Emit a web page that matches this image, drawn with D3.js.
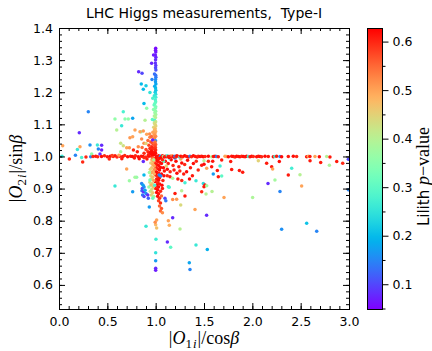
<!DOCTYPE html>
<html>
<head>
<meta charset="utf-8">
<script src="https://cdnjs.cloudflare.com/ajax/libs/d3/7.8.5/d3.min.js"></script>
<style>
  body { margin: 0; background: #fff; }
  text { font-family: "DejaVu Sans", sans-serif; fill: #000; }
</style>
</head>
<body>
<div id="chart"></div>
<script>
// each point: [|O1i|/cosb, |O2i|/sinb, Lilith p-value]
const armPoints = [
  [1.000,1.337,0.055],[0.999,1.331,0.06],[1.001,1.325,0.065],[0.978,1.316,0.07],[0.997,1.316,0.07],[1.002,1.309,0.075],
  [0.999,1.301,0.08],[0.958,1.290,0.075],[0.997,1.291,0.085],[1.001,1.283,0.09],[0.999,1.276,0.10],[1.002,1.269,0.11],
  [0.824,1.264,0.08],[0.859,1.259,0.10],[0.988,1.257,0.13],[1.000,1.253,0.135],[1.002,1.247,0.14],[0.962,1.240,0.15],
  [0.999,1.240,0.155],[0.998,1.233,0.17],[1.002,1.226,0.18],[0.851,1.226,0.20],[0.900,1.220,0.22],[0.990,1.219,0.185],
  [0.872,1.209,0.20],[0.999,1.213,0.20],[1.001,1.206,0.21],[0.995,1.200,0.22],[0.941,1.199,0.25],[1.000,1.194,0.24],
  [0.986,1.189,0.26],[1.001,1.184,0.27],[0.970,1.181,0.28],[0.997,1.176,0.28],[1.000,1.170,0.30],[0.879,1.165,0.20],
  [0.992,1.165,0.31],[0.984,1.160,0.31],[1.001,1.155,0.33],[0.907,1.150,0.36],[0.996,1.150,0.34],[0.978,1.146,0.35],
  [1.000,1.141,0.36],[0.992,1.136,0.37],[1.001,1.131,0.38],[0.986,1.126,0.39],[0.998,1.121,0.40],[0.890,1.113,0.40],
  [0.966,1.115,0.30],[0.990,1.112,0.29],[1.000,1.108,0.42],[0.986,1.104,0.43],[0.994,1.100,0.44],[1.001,1.095,0.45],
  [0.980,1.091,0.45],[0.996,1.086,0.47],[0.988,1.082,0.48],[1.000,1.078,0.49],[0.971,1.075,0.50],[0.993,1.071,0.50],
  [0.983,1.067,0.51],[1.000,1.063,0.52],[0.990,1.058,0.53],[0.976,1.054,0.52],[0.969,1.051,0.07],[0.999,1.049,0.16],
  [0.995,1.045,0.54],[0.984,1.041,0.55],[1.000,1.037,0.56],[0.990,1.033,0.57],[0.998,1.028,0.58],[0.986,1.024,0.59],
  [1.000,1.020,0.60],[0.993,1.015,0.61],[0.999,1.010,0.62],[0.990,1.006,0.62]
];

const upperLeftPoints = [
  [0.303,1.139,0.15],[0.665,1.139,0.28],[0.579,1.117,0.36],[0.683,1.117,0.35],[0.717,1.117,0.36],[0.762,1.119,0.18],
  [0.597,1.082,0.40],[0.648,1.096,0.26],[0.210,1.074,0.08],[0.786,1.082,0.50],[0.848,1.077,0.34],[0.838,1.077,0.50],
  [0.872,1.079,0.51],[0.907,1.069,0.50],[0.734,1.058,0.51],[0.762,1.061,0.50],[0.855,1.054,0.52],[0.879,1.041,0.52],
  [0.038,1.033,0.50],[0.217,1.030,0.50],[0.321,1.036,0.16],[0.397,1.036,0.26],[0.441,1.035,0.08],[0.190,1.022,0.26],
  [0.407,1.023,0.15],[0.441,1.020,0.07],[0.638,1.041,0.42],[0.665,1.033,0.43],[0.638,1.015,0.38],[0.700,1.027,0.50],
  [0.728,1.027,0.51],[0.770,1.020,0.60],[0.810,1.015,0.61],[0.820,1.030,0.52],[0.860,1.028,0.55],[0.880,1.010,0.60],
  [0.900,1.022,0.58],[0.920,1.015,0.60],[0.920,1.050,0.55],[0.940,1.060,0.53],[0.950,1.045,0.57],[0.930,1.035,0.58],
  [0.960,1.030,0.60],[0.955,1.020,0.61],[0.940,1.025,0.60],[0.970,1.040,0.58],[0.965,1.015,0.62],[0.975,1.025,0.60],
  [0.980,1.010,0.62],[0.950,1.008,0.62],[0.900,1.040,0.45],[0.938,1.070,0.52],[0.958,1.062,0.55],[0.925,1.005,0.61],
  [0.945,1.012,0.62],[0.972,1.005,0.62]
];

const bandLeftPoints = [
  [0.000,1.000,0.20],[0.031,1.001,0.26],[0.107,0.992,0.60],[0.170,1.004,0.15],[0.234,0.997,0.28],[0.279,0.998,0.60],
  [0.245,0.983,0.60],[0.328,0.999,0.15],[0.338,1.008,0.36],[0.352,1.000,0.60],[0.380,1.001,0.61],[0.400,0.999,0.60],
  [0.424,1.008,0.08],[0.440,1.000,0.62],[0.470,1.002,0.60],[0.500,0.999,0.61],[0.520,0.992,0.60],[0.530,1.001,0.62],
  [0.560,1.000,0.60],[0.580,1.002,0.61],[0.600,0.998,0.60],[0.630,1.001,0.62],[0.650,0.993,0.61],[0.660,1.000,0.61],
  [0.680,1.003,0.60],[0.710,0.999,0.62],[0.740,1.001,0.61],[0.760,1.000,0.62],[0.790,1.002,0.60],[0.820,0.999,0.62],
  [0.850,1.001,0.61],[0.870,1.000,0.62],[0.900,0.998,0.60],[0.930,1.001,0.62],[0.960,1.000,0.61],[0.872,0.984,0.08],
  [0.700,0.961,0.50],[0.550,1.003,0.58],[0.620,1.004,0.50],[0.780,0.995,0.61],[0.830,0.993,0.62],[0.880,0.996,0.60],
  [0.910,0.992,0.61]
];

const bandRightPoints = [
  [1.010,1.000,0.62],[1.020,0.998,0.61],[1.030,1.002,0.62],[1.040,0.999,0.60],[1.050,1.001,0.16],[1.060,0.997,0.62],
  [1.070,1.002,0.61],[1.080,1.000,0.38],[1.090,0.998,0.62],[1.100,1.001,0.60],[1.110,0.999,0.62],[1.120,1.002,0.27],
  [1.130,1.000,0.61],[1.140,0.997,0.62],[1.150,1.001,0.60],[1.160,0.999,0.62],[1.170,1.002,0.50],[1.180,1.000,0.61],
  [1.190,0.998,0.62],[1.200,1.001,0.15],[1.210,0.999,0.60],[1.220,1.002,0.62],[1.240,1.000,0.61],[1.250,0.998,0.27],
  [1.260,1.001,0.62],[1.280,0.999,0.60],[1.300,1.002,0.62],[1.320,1.000,0.61],[1.340,0.998,0.62],[1.355,1.001,0.15],
  [1.370,0.999,0.60],[1.390,1.002,0.62],[1.410,1.000,0.61],[1.430,0.998,0.62],[1.440,1.001,0.60],
  [1.459,1.000,0.62],[1.476,1.001,0.61],[1.493,0.999,0.62],[1.511,1.000,0.60],[1.545,1.001,0.62],[1.579,0.999,0.40],
  [1.597,1.000,0.61],[1.614,1.001,0.62],[1.631,1.000,0.15],[1.648,0.999,0.61],[1.717,1.001,0.50],[1.734,1.000,0.50],
  [1.752,0.999,0.62],[1.786,1.001,0.61],[1.803,1.000,0.62],[1.821,0.998,0.60],[1.838,1.001,0.62],[1.855,1.000,0.61],
  [1.872,0.999,0.62],[1.890,1.001,0.60],[1.907,1.000,0.62],[1.924,0.999,0.61],[1.941,1.001,0.62],[1.959,1.000,0.27],
  [1.976,0.999,0.61],[1.993,1.001,0.62],[2.010,1.000,0.60],[2.045,0.999,0.62],[2.062,1.001,0.61],[2.079,1.000,0.62],
  [2.096,0.999,0.60],[2.131,1.001,0.62],[2.165,1.000,0.61],[2.217,0.999,0.62],[2.234,1.000,0.28],[2.251,1.001,0.61],
  [2.286,1.000,0.15],[2.303,0.999,0.62],[2.372,1.000,0.61],[2.424,1.001,0.62],[2.458,1.000,0.60],[2.562,0.999,0.62],
  [2.579,1.001,0.50],[2.596,1.000,0.61],[2.648,1.000,0.50],[2.693,0.999,0.62],[2.769,1.000,0.40],[2.803,0.998,0.61],
  [2.993,0.991,0.10]
];

const coreLowerPoints = [
  [1.000,0.995,0.62],[1.010,0.990,0.62],[1.030,0.992,0.61],[1.050,0.995,0.62],[1.070,0.990,0.60],[1.020,0.985,0.62],
  [1.040,0.982,0.61],[0.995,0.980,0.60],[1.060,0.978,0.62],[1.010,0.975,0.61],[1.030,0.972,0.62],[1.000,0.968,0.60],
  [1.050,0.966,0.62],[1.020,0.962,0.61],[1.040,0.958,0.62],[0.995,0.955,0.60],[1.010,0.951,0.62],[1.030,0.948,0.61],
  [1.060,0.945,0.62],[1.000,0.942,0.62],[1.020,0.938,0.60],[1.040,0.934,0.62],[1.010,0.930,0.61],[1.030,0.926,0.62],
  [0.995,0.922,0.62],[1.020,0.918,0.60],[1.040,0.914,0.61],[1.010,0.910,0.62],[1.030,0.905,0.62],[1.000,0.900,0.61],
  [1.020,0.896,0.62],[1.050,0.892,0.60],[1.010,0.888,0.62],[1.030,0.884,0.61],[1.020,0.876,0.62],[1.040,0.870,0.60],
  [1.030,0.862,0.58],[1.050,0.855,0.60],[1.040,0.846,0.55],[1.060,0.838,0.57],[1.050,0.830,0.55],[1.070,0.825,0.52],
  [1.080,0.965,0.62],[1.090,0.955,0.61],[1.085,0.940,0.62],[1.075,0.925,0.60],[1.065,0.910,0.62],[1.070,0.900,0.61],
  [1.060,0.877,0.55],[1.038,0.942,0.15],[1.052,0.939,0.16],
  [0.960,0.990,0.48],[0.975,0.985,0.50],[0.950,0.980,0.46],[0.970,0.975,0.49],[0.985,0.970,0.50],[0.960,0.965,0.47],
  [0.945,0.960,0.45],[0.975,0.955,0.48],[0.960,0.950,0.50],[0.985,0.945,0.49],[0.950,0.940,0.44],[0.970,0.935,0.47],
  [0.955,0.930,0.46],[0.980,0.925,0.50],[0.940,0.920,0.42],[0.965,0.915,0.45],[0.950,0.910,0.48],[0.975,0.905,0.47],
  [0.960,0.898,0.44],[0.945,0.892,0.42],[0.970,0.887,0.46],[0.955,0.880,0.45],[0.980,0.875,0.38],[0.970,0.995,0.55],
  [0.980,0.990,0.40],[0.990,0.960,0.52],
  [0.941,0.927,0.33],[0.930,0.905,0.36],[0.935,0.950,0.38],[0.786,0.935,0.38],[0.879,0.942,0.20],[0.970,0.870,0.32],
  [0.990,0.910,0.28],
  [0.855,0.916,0.15],[0.870,0.910,0.18],[0.862,0.900,0.10],[0.880,0.905,0.16],[0.858,0.893,0.12],[0.875,0.890,0.08],
  [0.890,0.895,0.18],[0.865,0.880,0.14],[0.880,0.875,0.10],[0.900,0.885,0.16],[0.918,0.880,0.08],[0.924,0.870,0.12],
  [0.934,0.843,0.17],[0.762,0.890,0.17]
];

const scatterPoints = [
  [0.900,0.783,0.26],[1.003,0.742,0.27],[1.000,0.700,0.25],[1.000,0.675,0.17],[1.000,0.652,0.08],[1.000,0.646,0.07],
  [1.010,0.802,0.50],[1.000,0.787,0.48],[1.010,0.777,0.47],[0.995,0.795,0.52],[1.131,0.800,0.50],[1.141,0.786,0.49],
  [1.176,0.809,0.08],[1.252,0.774,0.40],[1.121,0.734,0.08],[1.155,0.717,0.30],[1.417,0.724,0.26],[1.348,0.669,0.18],
  [1.355,0.648,0.15],[1.534,0.710,0.19],[1.527,0.817,0.08],[1.407,0.835,0.50],[1.303,0.877,0.61],[1.259,0.849,0.44],
  [1.176,0.866,0.52],[1.217,0.867,0.51],[1.200,0.885,0.61],[1.269,0.893,0.40],[1.096,0.870,0.10],[1.105,0.862,0.14],
  [1.131,0.906,0.27],[1.140,0.904,0.28],[1.148,0.937,0.61],[1.176,0.932,0.39],[1.303,0.918,0.27],[1.417,0.924,0.26],
  [1.493,0.916,0.24],[1.510,0.911,0.61],[1.500,0.906,0.61],[1.476,0.890,0.60],[1.528,0.909,0.38],[1.521,0.883,0.40],
  [1.583,0.891,0.40],[1.596,0.945,0.17],[1.648,0.937,0.61],[1.683,0.939,0.30],[1.707,0.872,0.50],[2.003,0.872,0.39],
  [2.162,0.916,0.08],[2.234,0.927,0.38],[2.286,0.891,0.15],[2.372,0.942,0.61],[2.493,0.943,0.40],[2.510,0.908,0.50],
  [2.562,0.792,0.21],[2.303,0.773,0.16],[2.666,0.767,0.15],[2.993,0.896,0.15],[0.579,0.908,0.26],[0.728,0.924,0.37],
  [0.803,0.935,0.36],
  [1.100,0.985,0.62],[1.130,0.978,0.61],[1.160,0.990,0.62],[1.180,0.972,0.60],[1.210,0.985,0.62],[1.240,0.968,0.61],
  [1.270,0.980,0.62],[1.300,0.975,0.60],[1.330,0.988,0.62],[1.360,0.965,0.61],[1.390,0.978,0.62],[1.420,0.985,0.60],
  [1.120,0.960,0.62],[1.150,0.952,0.60],[1.190,0.958,0.61],[1.220,0.948,0.62],[1.250,0.955,0.60],[1.290,0.945,0.61],
  [1.320,0.952,0.62],[1.380,0.940,0.61],[1.440,0.958,0.60],[1.500,0.987,0.40],[1.476,0.973,0.61],[1.500,0.976,0.62],
  [1.528,0.963,0.50],[1.579,0.968,0.61],[1.666,0.970,0.27],[1.683,0.989,0.61],[1.776,0.984,0.61],[1.638,0.956,0.61],
  [1.786,0.959,0.61],[1.866,0.956,0.61],[1.900,0.951,0.61],[2.062,0.987,0.45],[2.148,0.979,0.61],[2.200,0.968,0.61],
  [2.210,0.961,0.50],[2.279,0.984,0.62],[2.407,0.963,0.27],[2.597,0.987,0.61],[2.707,0.981,0.61],[2.797,0.973,0.39],
  [2.873,0.984,0.61],[2.935,0.979,0.60],[1.545,0.985,0.60],[1.590,0.985,0.61],[1.120,0.940,0.60],[1.230,0.930,0.61],
  [1.270,0.925,0.60],[1.350,0.930,0.62],[1.080,0.985,0.30],[1.110,0.970,0.45],[1.140,0.995,0.28],[1.200,0.995,0.16],
  [1.260,0.992,0.50]
];

const xTicks = [0.0, 0.5, 1.0, 1.5, 2.0, 2.5, 3.0];
const yTicks = [0.6, 0.7, 0.8, 0.9, 1.0, 1.1, 1.2, 1.3, 1.4];
const cbTicks = [0.1, 0.2, 0.3, 0.4, 0.5, 0.6];
const pMin = 0.049, pMax = 0.628;

const W = 432, H = 351;
const plot = {left: 59, right: 349, top: 28, bottom: 309};
const cbar = {left: 367, width: 15};

const svg = d3.select('#chart').append('svg')
  .attr('width', W)
  .attr('height', H);

const x = d3.scaleLinear().domain([0, 3]).range([plot.left, plot.right]);
const y = d3.scaleLinear().domain([0.525, 1.4]).range([plot.bottom, plot.top]);

// matplotlib "rainbow"
function rainbow(t) {
  const r = Math.min(1, Math.abs(2 * t - 0.5));
  const g = Math.sin(Math.PI * t);
  const b = Math.cos(Math.PI * t / 2);
  return d3.rgb(r * 255, g * 255, b * 255).toString();
}
const color = d3.scaleSequential(rainbow).domain([pMin, pMax]);

// clip for markers
svg.append('defs').append('clipPath').attr('id', 'plot-clip')
  .append('rect')
    .attr('x', plot.left).attr('y', plot.top)
    .attr('width', plot.right - plot.left).attr('height', plot.bottom - plot.top);

const allPoints = [].concat(scatterPoints, bandLeftPoints, bandRightPoints, coreLowerPoints, upperLeftPoints, armPoints);

svg.append('g').attr('clip-path', 'url(#plot-clip)')
  .selectAll('circle')
  .data(allPoints).enter().append('circle')
    .attr('cx', d => x(d[0]))
    .attr('cy', d => y(d[1]))
    .attr('r', 1.75)
    .attr('fill', d => color(d[2]));

// axes: ticks pointing inwards on all four sides
const fontSize = '12.5px';
const xMinor = d3.range(0, 3.001, 0.1);
const yMinor = d3.range(0.54, 1.401, 0.02);

function styleAxis(g) {
  g.select('.domain').remove();
  g.selectAll('line').attr('stroke', '#000').attr('stroke-width', 1);
  g.selectAll('text').style('font-size', fontSize).style('font-family', '"DejaVu Sans", sans-serif');
}

svg.append('g').attr('transform', `translate(0,${plot.bottom})`)
  .call(d3.axisBottom(x).tickValues(xMinor).tickSize(-3).tickFormat('')).call(styleAxis);
svg.append('g').attr('transform', `translate(0,${plot.bottom})`)
  .call(d3.axisBottom(x).tickValues(xTicks).tickSize(-6).tickPadding(8).tickFormat(d3.format('.1f'))).call(styleAxis);
svg.append('g').attr('transform', `translate(0,${plot.top})`)
  .call(d3.axisTop(x).tickValues(xMinor).tickSize(-3).tickFormat('')).call(styleAxis);
svg.append('g').attr('transform', `translate(0,${plot.top})`)
  .call(d3.axisTop(x).tickValues(xTicks).tickSize(-6).tickFormat('')).call(styleAxis);

svg.append('g').attr('transform', `translate(${plot.left},0)`)
  .call(d3.axisLeft(y).tickValues(yMinor).tickSize(-3).tickFormat('')).call(styleAxis);
svg.append('g').attr('transform', `translate(${plot.left},0)`)
  .call(d3.axisLeft(y).tickValues(yTicks).tickSize(-6).tickPadding(6).tickFormat(d3.format('.1f'))).call(styleAxis);
svg.append('g').attr('transform', `translate(${plot.right},0)`)
  .call(d3.axisRight(y).tickValues(yMinor).tickSize(-3).tickFormat('')).call(styleAxis);
svg.append('g').attr('transform', `translate(${plot.right},0)`)
  .call(d3.axisRight(y).tickValues(yTicks).tickSize(-6).tickFormat('')).call(styleAxis);

svg.append('rect')
  .attr('x', plot.left + 0.5).attr('y', plot.top + 0.5)
  .attr('width', plot.right - plot.left).attr('height', plot.bottom - plot.top)
  .attr('fill', 'none').attr('stroke', '#000').attr('stroke-width', 1);

// title
svg.append('text')
  .attr('x', (plot.left + plot.right) / 2).attr('y', 18)
  .attr('text-anchor', 'middle')
  .style('font-size', '14px')
  .style('white-space', 'pre')
  .text('LHC Higgs measurements,  Type-I');

// math-style axis labels
const serif = '"Liberation Serif", "DejaVu Serif", serif';

const xl = svg.append('text')
  .attr('x', (plot.left + plot.right) / 2).attr('y', 344)
  .attr('text-anchor', 'middle')
  .style('font-family', serif).style('font-size', '18px');
xl.append('tspan').text('|');
xl.append('tspan').style('font-style', 'italic').text('O');
xl.append('tspan').attr('dy', 4).style('font-size', '13px').text('1');
xl.append('tspan').attr('dx', 1).style('font-size', '13px').style('font-style', 'italic').text('i');
xl.append('tspan').attr('dy', -4).attr('dx', 1).text('|/cos');
xl.append('tspan').style('font-style', 'italic').text('β');

const yl = svg.append('text')
  .attr('transform', `translate(22,${(plot.top + plot.bottom) / 2}) rotate(-90)`)
  .attr('text-anchor', 'middle')
  .style('font-family', serif).style('font-size', '18px');
yl.append('tspan').text('|');
yl.append('tspan').style('font-style', 'italic').text('O');
yl.append('tspan').attr('dy', 4).style('font-size', '13px').text('2');
yl.append('tspan').attr('dx', 1).style('font-size', '13px').style('font-style', 'italic').text('i');
yl.append('tspan').attr('dy', -4).attr('dx', 1).text('|/sin');
yl.append('tspan').style('font-style', 'italic').text('β');

// colour bar
const cb = d3.scaleLinear().domain([pMin, pMax]).range([plot.bottom, plot.top]);
const grad = svg.select('defs').append('linearGradient')
  .attr('id', 'cb-grad')
  .attr('x1', 0).attr('y1', 1).attr('x2', 0).attr('y2', 0);
grad.selectAll('stop')
  .data(d3.range(0, 1.0001, 0.02)).enter().append('stop')
    .attr('offset', d => d)
    .attr('stop-color', d => rainbow(d));

svg.append('rect')
  .attr('x', cbar.left + 0.5).attr('y', plot.top + 0.5)
  .attr('width', cbar.width).attr('height', plot.bottom - plot.top)
  .attr('fill', 'url(#cb-grad)')
  .attr('stroke', '#000').attr('stroke-width', 1);

const cbX = cbar.left + cbar.width + 0.5;
svg.append('g').attr('transform', `translate(${cbX},0)`)
  .call(d3.axisRight(cb).tickValues([0.05, 0.15, 0.25, 0.35, 0.45, 0.55]).tickSize(3).tickFormat('')).call(styleAxis);
svg.append('g').attr('transform', `translate(${cbX},0)`)
  .call(d3.axisRight(cb).tickValues(cbTicks).tickSize(6).tickPadding(4).tickFormat(d3.format('.1f'))).call(styleAxis);

const cl = svg.append('text')
  .attr('transform', `translate(429,${(plot.top + plot.bottom) / 2 + 8}) rotate(-90)`)
  .attr('text-anchor', 'middle')
  .style('font-size', '15px');
cl.append('tspan').text('Lilith ');
cl.append('tspan').style('font-family', serif).style('font-style', 'italic').style('font-size', '18px').text('p');
cl.append('tspan').style('font-family', serif).style('font-size', '18px').text('−value');
</script>
</body>
</html>
